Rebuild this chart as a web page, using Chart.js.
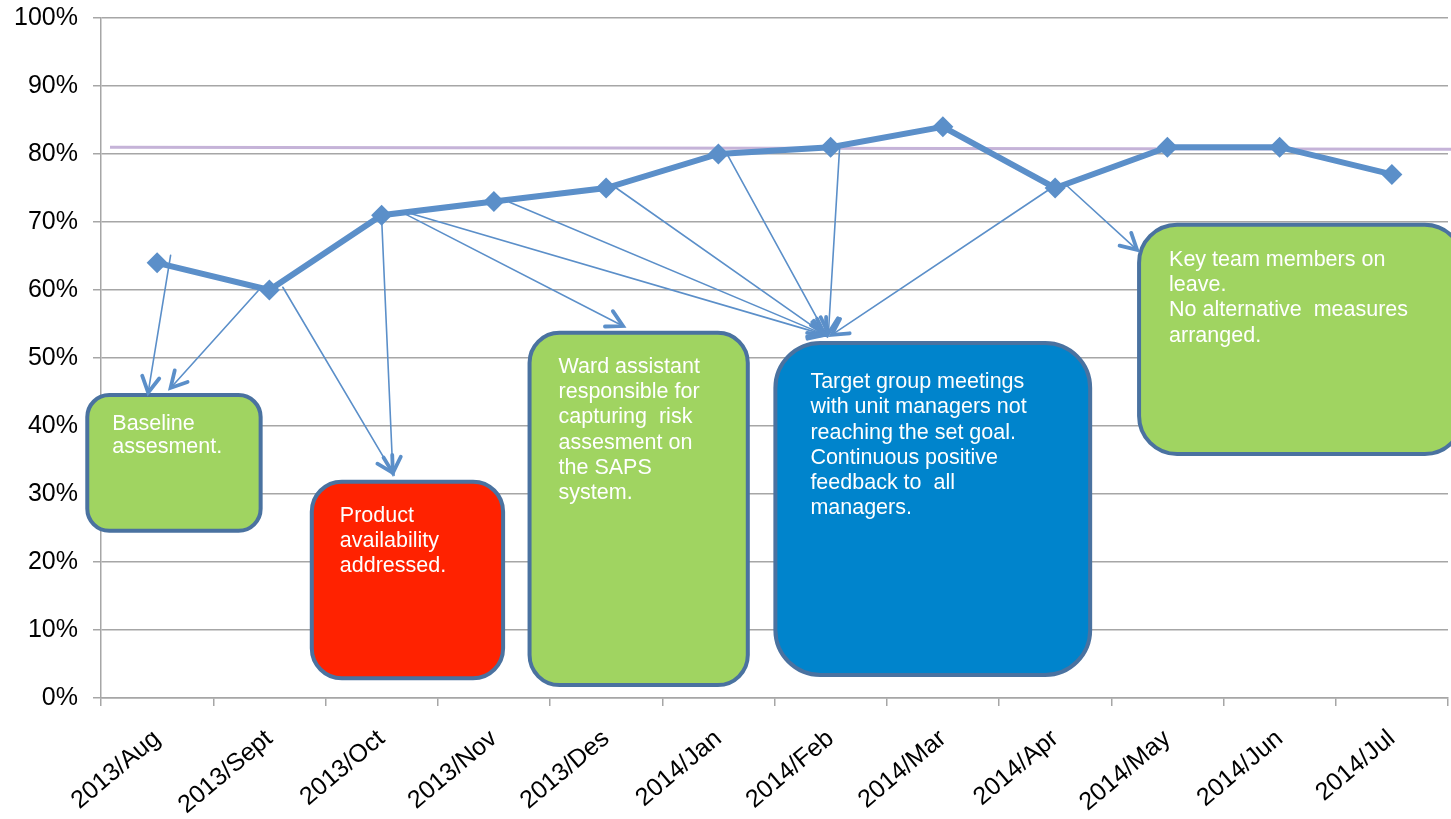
<!DOCTYPE html>
<html>
<head>
<meta charset="utf-8">
<script src="https://cdn.jsdelivr.net/npm/chart.js@4.4.1/dist/chart.umd.min.js"></script>
<style>
  html, body { margin: 0; padding: 0; background: #fff; }
  #wrap { width: 1451px; height: 819px; }
</style>
</head>
<body>
<div id="wrap"><canvas id="chart" width="1451" height="819"></canvas></div>
<script>
// Chart data
const months = ['2013/Aug', '2013/Sept', '2013/Oct', '2013/Nov', '2013/Des', '2014/Jan',
                '2014/Feb', '2014/Mar', '2014/Apr', '2014/May', '2014/Jun', '2014/Jul'];
const compliance = [64, 60, 71, 73, 75, 80, 81, 84, 75, 81, 81, 77];
const targetStart = 81;
const targetEnd = 80.7;
const yTicks = [0, 10, 20, 30, 40, 50, 60, 70, 80, 90, 100];

// Notes (box corners in category index / percent units)
const noteTexts = [
    ['Baseline', 'assesment.'],
    ['Product', 'availability', 'addressed.'],
    ['Ward assistant', 'responsible for', 'capturing  risk', 'assesment on', 'the SAPS', 'system.'],
    ['Target group meetings', 'with unit managers not', 'reaching the set goal.', 'Continuous positive', 'feedback to  all', 'managers.'],
    ['Key team members on', 'leave.', 'No alternative  measures', 'arranged.']
];
const noteBoxes = [
    [-0.64, 44.85, 0.94, 24.3],
    [1.36, 32.1, 3.10, 2.6],
    [3.30, 54.0, 5.28, 1.6],
    [5.49, 52.5, 8.33, 3.1],
    [8.73, 69.9, 11.65, 35.6]
];
const noteColors = ['#a0d461', '#ff2200', '#a0d461', '#0084cc', '#a0d461'];
const noteRadius = [22, 30, 30, 45, 38];
// arrows: [fromIndex, fromValue, toIndex, toValue]
const noteArrows = [
    [0.12, 65.1, -0.08, 44.9],
    [0.90, 59.9, 0.12, 45.6],
    [1.12, 60.4, 2.10, 33.1],
    [2.00, 70.6, 2.10, 33.1],
    [2.16, 71.6, 4.15, 54.7],
    [2.25, 71.3, 5.95, 53.4],
    [3.14, 72.9, 5.95, 53.4],
    [4.09, 75.0, 5.95, 53.4],
    [5.08, 79.9, 5.96, 53.4],
    [6.08, 80.9, 5.98, 53.6],
    [7.94, 74.7, 6.01, 53.4],
    [8.10, 75.4, 8.73, 65.9]
];

const lineBlue = '#5b8fc9';
const boxBorder = '#4a72a0';
const gridGrey = '#a6a6a6';
const textInset = [[27, 31], [30, 36], [31, 36], [37, 41], [32, 37]];

const notesPlugin = {
    id: 'notes',
    afterDatasetsDraw(chart) {
        const ctx = chart.ctx;
        const xs = chart.scales.x2;
        const ys = chart.scales.y;
        ctx.save();
        // boxes
        noteBoxes.forEach((b, i) => {
            const x1 = xs.getPixelForValue(b[0]);
            const y1 = ys.getPixelForValue(b[1]);
            const x2 = xs.getPixelForValue(b[2]);
            const y2 = ys.getPixelForValue(b[3]);
            ctx.beginPath();
            ctx.roundRect(x1 + 2, y1 + 2, x2 - x1 - 4, y2 - y1 - 4, noteRadius[i]);
            ctx.fillStyle = noteColors[i];
            ctx.fill();
            ctx.lineWidth = 4;
            ctx.strokeStyle = boxBorder;
            ctx.stroke();
            ctx.fillStyle = '#ffffff';
            ctx.font = '21.5px "Liberation Sans", Arial, sans-serif';
            ctx.textBaseline = 'middle';
            ctx.textAlign = 'left';
            const lh = i === 0 ? 23 : 25.3;
            noteTexts[i].forEach((t, k) => ctx.fillText(t, x1 + textInset[i][0], y1 + textInset[i][1] + k * lh));
        });
        // arrows
        ctx.strokeStyle = lineBlue;
        ctx.lineCap = 'round';
        noteArrows.forEach(a => {
            const fx = xs.getPixelForValue(a[0]);
            const fy = ys.getPixelForValue(a[1]);
            const tx = xs.getPixelForValue(a[2]);
            const ty = ys.getPixelForValue(a[3]);
            ctx.lineWidth = 1.6;
            ctx.beginPath();
            ctx.moveTo(fx, fy);
            ctx.lineTo(tx, ty);
            ctx.stroke();
            const ang = Math.atan2(ty - fy, tx - fx);
            const len = 18;
            ctx.lineWidth = 3.8;
            ctx.beginPath();
            ctx.moveTo(tx - len * Math.cos(ang - 0.5), ty - len * Math.sin(ang - 0.5));
            ctx.lineTo(tx, ty);
            ctx.lineTo(tx - len * Math.cos(ang + 0.5), ty - len * Math.sin(ang + 0.5));
            ctx.stroke();
        });
        ctx.restore();
    }
};

new Chart(document.getElementById('chart'), {
    type: 'line',
    data: {
        labels: months,
        datasets: [{
            label: 'Target',
            data: [{ x: -0.42, y: targetStart }, { x: 11.6, y: targetEnd }],
            xAxisID: 'x2',
            borderColor: '#c5b3d8',
            borderWidth: 3,
            pointRadius: 0,
            clip: false,
            order: 2
        }, {
            label: 'Compliance',
            data: compliance,
            xAxisID: 'x',
            borderColor: lineBlue,
            backgroundColor: lineBlue,
            borderWidth: 6,
            pointStyle: 'rectRot',
            pointRadius: 10.5,
            pointBorderWidth: 0,
            pointBackgroundColor: lineBlue,
            tension: 0,
            order: 1
        }]
    },
    options: {
        responsive: false,
        animation: false,
        layout: { autoPadding: false, padding: { top: 18, right: 3, left: 0, bottom: 0 } },
        plugins: {
            legend: { display: false },
            tooltip: { enabled: false }
        },
        scales: {
            x: {
                type: 'category',
                offset: true,
                grid: { offset: true, drawOnChartArea: false, drawTicks: true, tickLength: 8, color: gridGrey, lineWidth: 1.5 },
                border: { color: gridGrey, width: 1.5 },
                ticks: {
                    autoSkip: false,
                    maxRotation: 40,
                    minRotation: 40,
                    padding: 18,
                    color: '#000',
                    font: { family: '"Liberation Sans", Arial, sans-serif', size: 25 }
                },
                afterFit: s => { s.height = 121; s.paddingLeft = 0; s.paddingRight = 0; }
            },
            x2: {
                type: 'linear',
                display: false,
                min: -0.5,
                max: 11.5,
                afterFit: s => { s.paddingLeft = 0; s.paddingRight = 0; }
            },
            y: {
                min: 0,
                max: 100,
                afterBuildTicks: s => { s.ticks = yTicks.map(v => ({ value: v })); },
                grid: { color: gridGrey, lineWidth: 1.5, tickLength: 8 },
                border: { color: gridGrey, width: 1.5 },
                ticks: {
                    padding: 15,
                    color: '#000',
                    font: { family: '"Liberation Sans", Arial, sans-serif', size: 25 },
                    callback: v => v + '%'
                },
                afterFit: s => { s.width = 101; s.paddingTop = 0; s.paddingBottom = 0; }
            }
        }
    },
    plugins: [notesPlugin]
});
</script>
</body>
</html>
